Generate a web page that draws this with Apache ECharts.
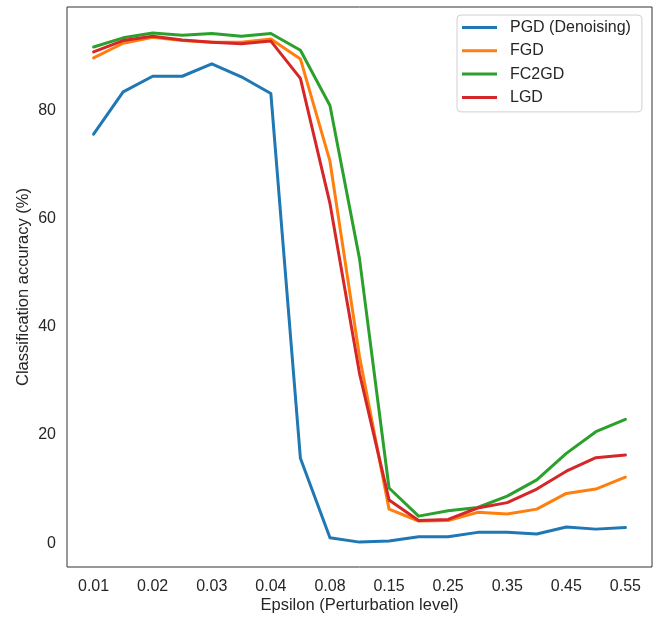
<!DOCTYPE html>
<html>
<head>
<meta charset="utf-8">
<script src="https://cdn.jsdelivr.net/npm/echarts@6/dist/echarts.min.js"></script>
<style>
  html, body { margin: 0; padding: 0; background: #fff; }
  #chart { width: 656px; height: 617px; }
</style>
</head>
<body>
<div id="chart"></div>
<script>
// Perturbation strengths (epsilon), one per evaluated point
const epsilons = ['0.01', '0.015', '0.02', '0.025', '0.03', '0.035', '0.04', '0.06', '0.08', '0.1',
                  '0.15', '0.2', '0.25', '0.3', '0.35', '0.4', '0.45', '0.5', '0.55'];
// Every other epsilon gets a tick label
const labelledIdx = [0, 2, 4, 6, 8, 10, 12, 14, 16, 18];
const yTicks = [0, 20, 40, 60, 80];

// Classification accuracy (%) per method
const pgd   = [75.6, 83.4, 86.3, 86.3, 88.6, 86.2, 83.1, 15.7, 1.0, 0.2, 0.4, 1.2, 1.2, 2.0, 2.0, 1.7, 3.0, 2.6, 2.9];
const fgd   = [89.7, 92.4, 93.5, 92.9, 92.6, 92.6, 93.2, 89.5, 70.6, 34.5, 6.3, 4.1, 4.2, 5.7, 5.4, 6.3, 9.2, 10.0, 12.2];
const fc2gd = [91.7, 93.4, 94.3, 93.9, 94.2, 93.7, 94.2, 91.1, 80.9, 52.6, 10.2, 5.0, 6.0, 6.6, 8.7, 11.7, 16.6, 20.6, 22.9];
const lgd   = [90.8, 92.9, 93.7, 93.0, 92.6, 92.3, 92.8, 85.9, 62.8, 31.4, 8.0, 4.2, 4.4, 6.5, 7.5, 10.0, 13.3, 15.8, 16.3];

const seriesDefs = [
  { name: 'PGD (Denoising)', data: pgd,   color: '#1f77b4' },
  { name: 'FGD',             data: fgd,   color: '#ff7f0e' },
  { name: 'FC2GD',           data: fc2gd, color: '#2ca02c' },
  { name: 'LGD',             data: lgd,   color: '#d62728' }
];

const FONT = '"Liberation Sans", Arial, sans-serif';
const TEXT = '#262626';

const chart = echarts.init(document.getElementById('chart'), null, { renderer: 'canvas' });

chart.setOption({
  backgroundColor: '#fff',
  animation: false,
  textStyle: { fontFamily: FONT, color: TEXT },
  grid: {
    left: 67, right: 4, top: 7, bottom: 50,
    outerBoundsMode: 'none',
    containLabel: false,
    show: true, borderColor: '#333', borderWidth: 1, backgroundColor: 'transparent'
  },
  legend: {
    orient: 'vertical',
    left: 457, top: 15,
    padding: [4, 11, 6, 5],
    itemGap: 6.3,
    itemWidth: 35,
    itemHeight: 3,
    icon: 'rect',
    borderColor: '#d0d0d0',
    borderWidth: 1,
    borderRadius: 4,
    backgroundColor: 'rgba(255,255,255,0.8)',
    textStyle: { fontFamily: FONT, fontSize: 16, color: TEXT, lineHeight: 17, padding: [0, 0, 0, 8] },
    data: seriesDefs.map(s => s.name)
  },
  xAxis: {
    type: 'value',
    min: -0.9,
    max: 18.9,
    name: 'Epsilon (Perturbation level)',
    nameLocation: 'middle',
    nameGap: 30,
    nameMoveOverlap: false,
    nameTextStyle: { fontFamily: FONT, fontSize: 16.5, color: TEXT },
    axisLine: { show: false },
    axisTick: { show: false },
    splitLine: { show: false },
    axisLabel: {
      customValues: labelledIdx,
      margin: 12,
      fontFamily: FONT, fontSize: 16, color: TEXT,
      formatter: v => epsilons[Math.round(v)]
    }
  },
  yAxis: {
    type: 'value',
    min: -4.4,
    max: 99.1,
    name: 'Classification accuracy (%)',
    nameLocation: 'middle',
    nameGap: 35,
    nameMoveOverlap: false,
    nameTextStyle: { fontFamily: FONT, fontSize: 16.5, color: TEXT },
    axisLine: { show: false },
    axisTick: { show: false },
    splitLine: { show: false },
    axisLabel: {
      customValues: yTicks,
      margin: 11,
      fontFamily: FONT, fontSize: 16, color: TEXT,
      formatter: v => String(Math.round(v))
    }
  },
  series: seriesDefs.map(s => ({
    name: s.name,
    type: 'line',
    data: s.data.map((v, i) => [i, v]),
    showSymbol: false,
    symbol: 'none',
    color: s.color,
    lineStyle: { color: s.color, width: 3, cap: 'round', join: 'round' },
    itemStyle: { color: s.color }
  }))
});
</script>
</body>
</html>
